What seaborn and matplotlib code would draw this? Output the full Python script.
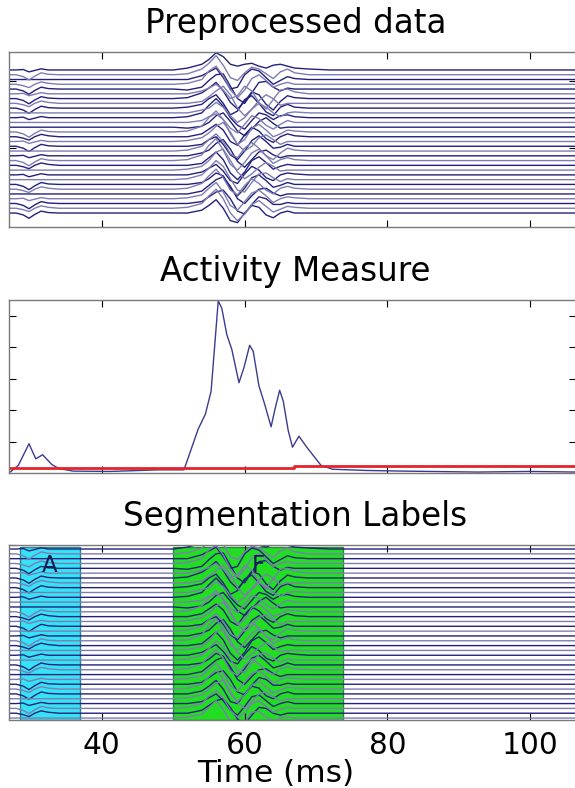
import numpy as np
import pandas as pd
import matplotlib
matplotlib.use("Agg")
import matplotlib.pyplot as plt
import seaborn as sns

# ---------------- data ----------------
X_MIN, X_MAX = 27.0, 106.4
X_TICKS = [40, 60, 80, 100]

# early (A) region time grid and per-channel deflections
T_EARLY = [28.0, 29.0, 29.8, 30.6, 31.5, 32.5, 34.0]
# active (F) region time grid
T_ACTIVE = [52, 54, 55, 56, 57, 58, 59, 60, 61, 62, 63, 64, 65, 66, 67, 69]
T_QUIET = [27.0, 38.0, 50.0, 72.0, 106.4]

e0 = [0, 0, 0, 0, 0, 0, 0]
e1 = [0, -0.2, -0.55, -0.15, 0.2, 0.05, 0]
e2 = [0, -0.15, -0.35, 0.0, 0.25, 0.1, 0]
e3 = [0, 0.05, -0.2, -0.05, 0.12, 0.0, 0]

EARLY = [e3, e1, e0, e2, e1, e3, e1, e2, e1, e0, e3, e0, e0, e1, e2, e3,
         e1, e0, e3, e1, e2, e0, e3, e0, e1, e2, e0, e3, e1, e2, e1, e0,
         e3, e1, e2, e0]

ACTIVE = [
    [0.2, 0.6, 1.1, 1.8, 1.4, 0.6, 0.4, 0.6, 0.7, 0.4, 0.2, 0.5, 0.6, 0.4, 0.2, 0.1],
    [0.1, 0.6, 1.2, 2.0, 1.0, -0.3, -0.6, 0.2, 0.8, 0.6, 0.1, -0.4, 0.3, 0.6, 0.2, 0.0],
    [0.0, 0.4, 0.8, 1.2, 0.2, -1.0, -0.8, 0.5, 1.1, 0.9, 0.2, -0.5, -0.1, 0.3, 0.1, 0.0],
    [0.1, 0.5, 1.4, 1.9, 0.9, -0.6, -1.4, -0.6, 0.6, 1.0, 0.4, -0.3, 0.0, 0.2, 0.0, 0.0],
    [-0.1, 0.2, 0.9, 1.5, 1.6, 0.3, -1.0, -1.5, -0.4, 0.7, 0.8, 0.2, -0.2, 0.1, 0.0, 0.0],
    [0.0, 0.3, 0.6, 1.0, 0.4, -0.5, -0.2, 0.8, 0.3, -0.9, -1.6, -0.6, 0.4, 0.5, 0.2, 0.0],
    [0.1, 0.6, 1.1, 1.7, 0.8, -0.4, -1.1, -0.3, 0.7, 0.4, -0.6, -1.2, -0.3, 0.3, 0.1, 0.0],
    [0.0, 0.2, 0.7, 1.3, 1.8, 0.9, -0.5, -1.3, -0.6, 0.3, 0.9, 0.5, -0.2, 0.0, 0.0, 0.0],
    [0.1, 0.4, 1.0, 1.4, 0.5, -0.7, -0.3, 0.9, 1.3, 0.5, -0.4, -0.8, 0.1, 0.4, 0.1, 0.0],
    [0.0, 0.3, 0.5, 1.1, 0.6, -0.3, -1.0, -0.5, 0.4, 1.0, 0.6, 0.0, -0.4, 0.0, 0.1, 0.0],
    [0.1, 0.5, 1.3, 2.0, 1.2, 0.0, -0.8, -1.2, -0.3, 0.5, 0.3, -0.2, 0.2, 0.3, 0.1, 0.0],
    [0.0, 0.2, 0.6, 0.9, 0.3, -0.6, -1.1, -0.2, 0.7, 0.4, -0.3, -0.7, -0.2, 0.2, 0.0, 0.0],
    [-0.1, 0.1, 0.5, 1.2, 1.5, 0.6, -0.4, -0.9, -0.2, 0.6, 1.0, 0.4, -0.1, 0.0, 0.0, 0.0],
    [0.1, 0.6, 1.5, 2.2, 1.3, -0.2, -1.3, -0.8, 0.4, 0.8, 0.2, -0.5, -0.2, 0.2, 0.1, 0.0],
    [0.0, 0.3, 0.8, 1.3, 0.7, -0.5, -0.9, 0.2, 1.0, 0.6, -0.2, -0.6, 0.0, 0.3, 0.1, 0.0],
    [0.1, 0.4, 0.9, 1.6, 2.0, 1.0, -0.3, -1.0, -0.5, 0.4, 0.7, 0.2, -0.3, 0.0, 0.0, 0.0],
    [0.0, 0.2, 0.7, 1.0, 0.2, -0.9, -1.4, -0.5, 0.6, 1.1, 0.5, -0.2, -0.1, 0.2, 0.0, 0.0],
    [0.1, 0.5, 1.2, 1.8, 1.0, -0.3, -0.7, 0.3, 0.9, 0.3, -0.5, -0.9, -0.2, 0.3, 0.1, 0.0],
    [0.0, 0.3, 0.6, 1.3, 1.7, 0.7, -0.6, -1.2, -0.4, 0.4, 0.6, 0.1, -0.2, 0.0, 0.0, 0.0],
    [0.1, 0.6, 1.6, 2.3, 1.1, -0.4, -1.0, -0.2, 0.8, 1.2, 0.5, -0.3, 0.1, 0.3, 0.1, 0.0],
    [0.0, 0.2, 0.8, 1.4, 0.6, -0.8, -1.5, -0.7, 0.5, 0.9, 0.3, -0.4, -0.1, 0.1, 0.0, 0.0],
    [0.1, 0.4, 1.0, 1.9, 2.2, 1.0, -0.2, -0.9, -0.4, 0.3, 0.8, 0.4, -0.1, 0.0, 0.0, 0.0],
    [0.0, 0.3, 0.7, 1.1, 0.4, -0.6, -0.9, 0.1, 0.9, 0.5, -0.3, -0.6, 0.0, 0.2, 0.1, 0.0],
    [0.1, 0.5, 1.2, 2.0, 1.4, 0.1, -1.1, -1.3, -0.3, 0.6, 0.7, 0.2, -0.2, 0.1, 0.0, 0.0],
    [0.0, 0.2, 0.6, 1.2, 0.9, -0.4, -1.2, -0.4, 0.7, 1.0, 0.4, -0.3, -0.1, 0.2, 0.0, 0.0],
    [0.1, 0.6, 1.4, 2.1, 1.2, -0.1, -0.6, 0.4, 1.1, 0.6, -0.1, -0.5, 0.1, 0.3, 0.1, 0.0],
    [0.0, 0.3, 0.9, 1.5, 1.8, 0.8, -0.5, -1.0, -0.2, 0.5, 0.6, 0.1, -0.2, 0.0, 0.0, 0.0],
    [0.1, 0.4, 1.1, 1.7, 0.7, -0.7, -1.2, -0.3, 0.6, 0.9, 0.3, -0.4, 0.0, 0.2, 0.1, 0.0],
    [0.0, 0.2, 0.7, 1.2, 1.4, 0.5, -0.8, -1.1, -0.1, 0.7, 0.5, -0.1, -0.1, 0.1, 0.0, 0.0],
    [0.1, 0.5, 1.3, 2.0, 1.0, -0.5, -1.3, -0.6, 0.4, 0.8, 0.2, -0.4, -0.1, 0.2, 0.1, 0.0],
    [0.0, 0.3, 0.8, 1.4, 0.5, -0.8, -1.0, 0.0, 0.8, 0.6, -0.2, -0.5, 0.0, 0.2, 0.0, 0.0],
    [0.1, 0.4, 1.0, 1.6, 1.9, 0.7, -0.4, -1.0, -0.3, 0.5, 0.7, 0.2, -0.2, 0.0, 0.0, 0.0],
    [0.0, 0.2, 0.6, 1.0, 0.3, -0.7, -1.2, -0.3, 0.7, 0.9, 0.3, -0.3, 0.0, 0.2, 0.0, 0.0],
    [0.1, 0.5, 1.3, 1.9, 1.1, -0.2, -0.9, -0.5, 0.5, 0.8, 0.2, -0.4, -0.1, 0.1, 0.0, 0.0],
    [0.0, 0.3, 0.8, 1.3, 1.5, 0.6, -0.6, -1.1, -0.2, 0.6, 0.5, 0.0, -0.2, 0.0, 0.0, 0.0],
    [0.1, 0.4, 1.1, 1.8, 0.9, -0.4, -1.1, -0.4, 0.6, 0.7, 0.1, -0.3, 0.0, 0.1, 0.0, 0.0],
]
N_TOP = 31   # channels shown in the top panel
N_BOT = 36   # channels shown in the bottom panel

# activity measure
ACT_T = [27.0, 28.3, 29.8, 30.75, 31.7, 33.0, 34.0, 36.0, 41.2, 47.9, 51.5, 53.5,
         54.5, 55.3, 56.3, 56.8, 57.5, 58.2, 59.2, 59.9, 60.7, 61.2, 62.0, 62.8,
         63.7, 64.3, 64.9, 65.4, 66.1, 66.7, 67.6, 68.7, 70.7, 72.3, 77.1, 82.3,
         92.6, 100.0, 106.4]
ACT_V = [0.0, 0.24, 0.93, 0.45, 0.58, 0.27, 0.14, 0.06, 0.05, 0.10, 0.10, 1.40,
         1.87, 2.60, 5.47, 5.24, 4.40, 3.93, 2.87, 3.35, 4.06, 3.87, 2.77, 2.19,
         1.47, 2.08, 2.63, 2.29, 1.35, 0.82, 1.17, 0.82, 0.24, 0.12, 0.08, 0.06,
         0.03, 0.05, 0.03]
THR_T = [27.0, 66.9, 66.9, 106.4]
THR_V = [0.17, 0.17, 0.21, 0.21]

# segmentation labels
SEG_NAMES = ["A", "F"]
SEG_START = [28.5, 50.0]
SEG_END = [37.0, 73.8]
SEG_COLORS = ["#35e3f7", "#22dd22"]
SEG_EDGES = ["#2f7f8c", "#2a8a3a"]

TITLES = ["Preprocessed data", "Activity Measure", "Segmentation Labels"]
XLABEL = "Time (ms)"

# vertical spacing between stacked traces (display setting)
SPACING = 0.5

# ---------------- build long table ----------------
rows = []
for ch, (e, a) in enumerate(zip(EARLY, ACTIVE)):
    t = [T_QUIET[0]] + T_EARLY + [T_QUIET[1], T_QUIET[2]] + list(T_ACTIVE) + [T_QUIET[3], T_QUIET[4]]
    v = [0.0] + list(e) + [0.0, 0.0] + list(a) + [0.0, 0.0]
    shade = "dark" if ch % 2 == 0 else "light"
    for ti, vi in zip(t, v):
        rows.append((ch, float(ti), vi - ch * SPACING, shade))
traces = pd.DataFrame(rows, columns=["ch", "t", "y", "shade"])
PAL = {"dark": "#22227c", "light": "#7d7db2"}

# ---------------- figure ----------------
sns.set_theme(style="white")
plt.rcParams["font.family"] = ["DejaVu Sans"]

W, H = 575, 788
fig = plt.figure(figsize=(W / 100, H / 100), dpi=100)

def px_axes(top, bottom, left=9, right=576):
    return fig.add_axes([left / W, 1 - bottom / H, (right - left) / W, (bottom - top) / H])

ax1 = px_axes(52, 227)
ax2 = px_axes(300, 473)
ax3 = px_axes(545, 719.5)

# top panel
sns.lineplot(data=traces[traces.ch < N_TOP], x="t", y="y", units="ch", estimator=None,
             hue="shade", palette=PAL, legend=False, sort=False, lw=1.0, ax=ax1)
ax1.set_ylim(-32.93 * SPACING, 3.77 * SPACING)
ax1.set_yticks([-2.3 * SPACING, -16.35 * SPACING])

# middle panel
sns.lineplot(x=ACT_T, y=ACT_V, estimator=None, sort=False, color="#3b3b92", lw=1.0, ax=ax2)
sns.lineplot(x=THR_T, y=THR_V, estimator=None, sort=False, color="#e3242b", lw=2.0, ax=ax2)
ax2.set_ylim(0, 5.5)
ax2.set_yticks([1, 2, 3, 4, 5])

# bottom panel
for name, s, e, c, ec in zip(SEG_NAMES, SEG_START, SEG_END, SEG_COLORS, SEG_EDGES):
    ax3.axvspan(s, e, ymin=0.0, ymax=0.988, facecolor=c, edgecolor=ec, lw=1.0, zorder=0)
    ax3.text((s + e) / 2, 0.885, name, transform=ax3.get_xaxis_transform(),
             ha="center", va="center", fontsize=16.5, color="#1a1a55", zorder=3)
sns.lineplot(data=traces[traces.ch < N_BOT], x="t", y="y", units="ch", estimator=None,
             hue="shade", palette=PAL, legend=False, sort=False, lw=1.0, ax=ax3)
ax3.set_ylim(-35.3 * SPACING, 0.83 * SPACING)
ax3.set_yticks([0.83 * SPACING])

for ax, title in zip([ax1, ax2, ax3], TITLES):
    ax.set_xlim(X_MIN, X_MAX)
    ax.set_xticks(X_TICKS)
    ax.tick_params(direction="in", length=5, width=0.8, color="black",
                   top=True, bottom=True, left=True, right=True,
                   labelbottom=False, labelleft=False, pad=8, labelsize=21.3)
    for sp in ax.spines.values():
        sp.set_color("#7a7a7a")
        sp.set_linewidth(1.0)
    ax.spines["right"].set_visible(False)
    ax.set_xlabel("")
    ax.set_ylabel("")
    ax.set_title(title, fontsize=23.5, pad=13.7, color="black", x=0.505)

ax3.tick_params(labelbottom=True, labelcolor="black")
ax3.set_xlabel(XLABEL, fontsize=22.5, color="black")
ax3.xaxis.set_label_coords(0.47, -0.228)
ax3.xaxis.label.set_va("top")

fig.savefig("out.png", dpi=100, facecolor="white")
